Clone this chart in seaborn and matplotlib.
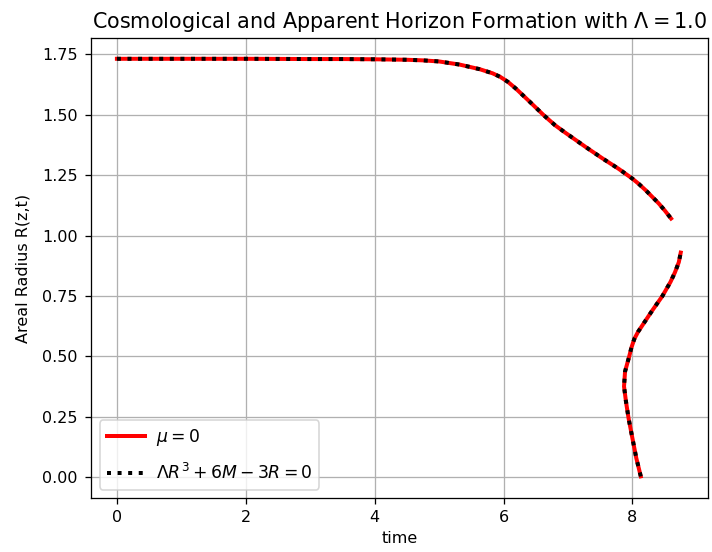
import matplotlib
matplotlib.use("Agg")
import matplotlib.pyplot as plt
import seaborn as sns
import pandas as pd

# Cosmological horizon branch (upper)
t_upper = [0.0, 1.0, 2.0, 3.0, 3.5, 4.0, 4.5, 4.75, 5.0, 5.32, 5.63, 5.83, 5.95,
           6.07, 6.19, 6.40, 6.63, 6.80, 6.97, 7.12, 7.28, 7.54, 7.79, 8.0, 8.1,
           8.21, 8.41, 8.5, 8.6]
R_upper = [1.732, 1.732, 1.732, 1.731, 1.731, 1.730, 1.728, 1.7255, 1.721, 1.708,
           1.689, 1.672, 1.657, 1.636, 1.609, 1.556, 1.497, 1.457, 1.424, 1.396,
           1.366, 1.319, 1.276, 1.236, 1.214, 1.187, 1.133, 1.105, 1.071]

# Apparent horizon branch (lower)
t_lower = [8.13, 8.06, 8.0, 7.94, 7.90, 7.87, 7.886, 7.95, 7.985, 8.03, 8.09,
           8.17, 8.31, 8.465, 8.59, 8.66, 8.72, 8.75]
R_lower = [0.004, 0.080, 0.162, 0.245, 0.314, 0.376, 0.438, 0.500, 0.537, 0.573,
           0.603, 0.635, 0.691, 0.750, 0.808, 0.848, 0.890, 0.930]

df_u = pd.DataFrame({"t": t_upper, "R": R_upper})
df_l = pd.DataFrame({"t": t_lower, "R": R_lower})

plt.rcParams["font.family"] = ["DejaVu Sans"]
dpi = 115
fig, ax = plt.subplots(figsize=(712 / dpi, 552 / dpi), dpi=dpi)

for i, d in enumerate([df_u, df_l]):
    sns.lineplot(data=d, x="t", y="R", sort=False, estimator=None, ax=ax,
                 color="red", linewidth=2.5, solid_joinstyle="round",
                 label=r"$\mu = 0$" if i == 0 else None)
for i, d in enumerate([df_u, df_l]):
    sns.lineplot(data=d, x="t", y="R", sort=False, estimator=None, ax=ax,
                 color="black", linewidth=2.5, linestyle=":",
                 label=r"$\Lambda R^3 + 6M - 3R = 0$" if i == 0 else None)

ax.set_xlabel("time")
ax.set_ylabel("Areal Radius R(z,t)", labelpad=7.5)
ax.set_title(r"Cosmological and Apparent Horizon Formation with $\Lambda = 1.0$",
             fontsize=13)
ax.set_ylim(-0.0875, 1.82)
ax.set_xlim(-0.40, 9.18)
ax.set_yticks([0.0, 0.25, 0.5, 0.75, 1.0, 1.25, 1.5, 1.75])
ax.tick_params(axis="y", pad=4.8)
ax.grid(True, color="#b0b0b0", linewidth=0.8)
ax.legend(loc="lower left", fontsize=10.8, handlelength=2.2,
          labelspacing=0.85, handletextpad=0.65)

fig.subplots_adjust(left=0.128, right=0.995, top=0.932, bottom=0.097)
fig.savefig("out.png", dpi=dpi)
